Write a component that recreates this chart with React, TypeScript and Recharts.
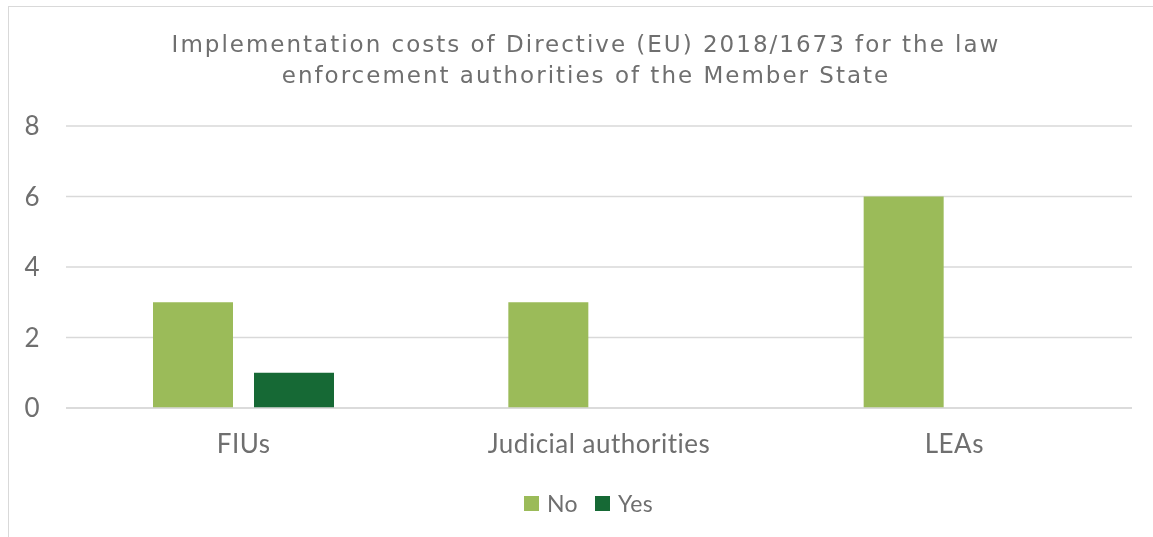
import { BarChart, Bar, XAxis, YAxis, CartesianGrid, Legend } from "recharts";

const CATEGORIES = ["FIUs", "Judicial authorities", "LEAs"];
const NO_VALUES = [3, 3, 6];
const YES_VALUES = [1, 0, 0];
const Y_TICKS = [0, 2, 4, 6, 8];

const TITLE_LINES = [
  "Implementation costs of Directive (EU) 2018/1673 for the law",
  "enforcement authorities of the Member State",
];

const TEXT_GRAY = "#6f6f6f";
const GRID_GRAY = "#d9d9d9";
const NO_COLOR = "#9BBB59";
const YES_COLOR = "#166935";
const AXIS_FONT = "Lato, 'Open Sans', sans-serif";

const data = CATEGORIES.map((name, i) => ({
  name,
  No: NO_VALUES[i],
  Yes: YES_VALUES[i],
}));

function LegendContent({ payload }: { payload?: Array<{ value: string; color: string }> }) {
  if (!payload) return null;
  return (
    <div style={{ display: "flex", justifyContent: "center", gap: 17, paddingLeft: 24 }}>
      {payload.map((p) => (
        <div key={p.value} style={{ display: "flex", alignItems: "center", gap: 8 }}>
          <div style={{ width: 15, height: 15, backgroundColor: p.color }} />
          <span
            style={{
              fontFamily: AXIS_FONT,
              fontSize: 23,
              letterSpacing: 0.4,
              color: TEXT_GRAY,
              lineHeight: "24px",
            }}
          >
            {p.value}
          </span>
        </div>
      ))}
    </div>
  );
}

export default function App() {
  const tickStyle = { fill: TEXT_GRAY, fontSize: 26, fontFamily: AXIS_FONT, letterSpacing: 0.5 };
  return (
    <div>
      {/* chart frame, cut off by the window on the right and bottom */}
      <div
        style={{
          position: "fixed",
          left: 8,
          top: 6,
          width: 1200,
          height: 600,
          border: `1px solid ${GRID_GRAY}`,
          background: "#fff",
        }}
      />
      <div style={{ position: "fixed", left: 0, top: 0, width: 1153, height: 537 }}>
        <div
          style={{
            position: "absolute",
            left: 0,
            top: 29,
            width: 1172,
            textAlign: "center",
            fontFamily: "'DejaVu Sans', Verdana, sans-serif",
            fontSize: 23,
            letterSpacing: 2,
            lineHeight: "31px",
            color: TEXT_GRAY,
          }}
        >
          {TITLE_LINES.map((l) => (
            <div key={l}>{l}</div>
          ))}
        </div>
        <BarChart
          width={1153}
          height={537}
          data={data}
          margin={{ top: 126, right: 21, bottom: 89, left: 0 }}
          barSize={80}
          barGap={21}
        >
          <CartesianGrid vertical={false} stroke={GRID_GRAY} strokeWidth={1.3} />
          <XAxis
            dataKey="name"
            height={40}
            axisLine={{ stroke: GRID_GRAY, strokeWidth: 1.3 }}
            tickLine={false}
            tickSize={0}
            tickMargin={27}
            tick={tickStyle}
          />
          <YAxis
            width={66}
            domain={[0, 8]}
            ticks={Y_TICKS}
            axisLine={false}
            tickLine={false}
            tickSize={0}
            tickMargin={26}
            tick={tickStyle}
          />
          <Legend
            verticalAlign="middle"
            align="center"
            layout="horizontal"
            wrapperStyle={{ top: 491, left: 0, width: 1153 }}
            content={<LegendContent />}
          />
          <Bar dataKey="No" fill={NO_COLOR} isAnimationActive={false} />
          <Bar dataKey="Yes" fill={YES_COLOR} isAnimationActive={false} />
        </BarChart>
      </div>
    </div>
  );
}
